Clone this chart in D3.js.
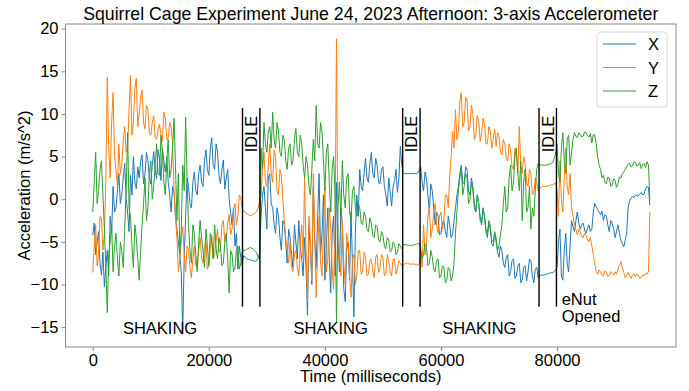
<!DOCTYPE html>
<html>
<head>
<meta charset="utf-8">
<script src="https://cdn.jsdelivr.net/npm/d3@7"></script>
<style>
  body { margin: 0; background: #fff; }
  svg text { font-family: "Liberation Sans", Arial, sans-serif; fill: #000; }
</style>
</head>
<body>
<svg id="chart" width="689" height="391"></svg>
<script>
// Accelerometer sampling interval (one reading every 250 ms)
const SAMPLE_MS = 250;

// X axis acceleration (m/s^2)
const accelX = [
  -4.2, -2.8, -6.5, -5.0, -3.8, -7.5, -8.9, -6.2, -10.3, -8.0,
  -6.0, -9.0, -2.0, -4.0, 1.5, -1.5, -1.0, 1.0, 3.0, -0.5,
  0.5, 2.5, 4.2, 0.0, -1.5, -3.8, 2.8, 0.5, 5.0, 2.0,
  1.2, 3.8, 2.5, 4.5, 5.2, 1.8, 3.0, 5.5, 4.6, 2.5,
  1.8, 4.0, 5.6, 3.5, 2.4, 5.8, 4.8, 2.2, 6.0, 4.5,
  3.2, 5.0, 2.0, 0.5, -1.5, 1.5, 0.8, -2.0, -3.5, -5.0,
  -6.5, -8.5, -15.6, -7.0, -2.0, 2.5, 1.5, -0.5, -1.0, 2.0,
  3.2, 1.0, 0.5, 3.0, 4.0, 2.0, 1.5, 4.5, 5.8, 3.5,
  2.8, 6.0, 7.2, 4.0, 3.5, 6.5, 5.5, 2.8, 1.8, 3.5,
  4.6, 1.2, 2.5, 3.5, 0.0, -1.5, -3.0, -1.0, -5.5, -4.0,
  -8.2, -5.5, -6.8, -7.8,
  -6.6, -6.8, -7.0, -7.0, -7.1, -7.1, -7.2, -7.2, -7.3, -7.2, -6.9, -6.4,
  -2.0, 0.5, 1.5, -1.0, -3.5, 2.5, 3.0, -0.5, -1.0, -3.0,
  -4.0, -1.0, -2.0, -4.5, -6.0, -2.5, -3.0, -5.0, -7.5, -3.5,
  -4.5, -6.5, -8.0, -3.0, -5.0, -7.0, -2.5, -5.5, -7.0, -9.0,
  -4.5, -8.0, -13.6, -3.0, -6.0, -10.0, 1.5, -5.0, -8.0, -2.0,
  3.0, -6.5, -4.0, 0.5, -9.5, -5.5, -1.0, -7.0, -11.0, -4.0,
  -2.0, -9.0, 2.0, -4.5, -8.5, -1.0, -3.0, -10.5, -12.0, -6.0,
  -5.0, -9.5, -1.5, -7.5, -13.8, -4.0, 0.5, -2.0, 3.5, 1.5,
  1.0, 3.0, 4.8, 2.5, 2.0, 4.2, 5.5, 3.0, 2.5, 4.8,
  4.0, 2.0, 1.8, 3.5, 3.8, 1.5, 0.5, -0.8, 2.5, 0.8,
  -0.8, 1.5, 2.2, 3.5, 0.8, 2.5, 6.2, 4.0,
  3.1, 3.0, 3.0, 3.0, 3.0, 3.0, 3.0, 3.0, 3.0, 3.0, 3.1, 3.4,
  3.8, 2.0, 1.0, 3.2, 2.5, 0.5, -1.5, 1.8, 1.0, -1.0,
  -3.0, -1.5, -2.0, -4.2, -4.0, -2.8, -2.5, -3.8, -4.5, -2.0,
  -3.0, -4.5, -4.2, -2.5, -1.0, 0.5, 1.5, 3.0, 4.0, 1.8,
  2.0, 3.8, 3.5, 1.0, 0.5, 2.5, 1.5, -0.5, -1.5, 0.5,
  -0.5, -2.0, -3.0, -1.0, -2.0, -3.8, -4.5, -2.8, -3.5, -5.2,
  -5.5, -4.0, -5.0, -6.2, -6.8, -5.5, -6.0, -7.5, -8.0, -6.8,
  -6.5, -9.0, -8.5, -7.2, -7.0, -9.3, -9.0, -7.8, -7.5, -9.8,
  -9.5, -8.0, -7.8, -9.6, -8.5, -7.0, -7.2, -9.0, -9.8, -8.2,
  -8.0, -9.2,
  -8.9, -8.9, -8.9, -8.9, -8.8, -8.8, -8.7, -8.7, -8.6, -8.6, -8.5, -8.3,
  -8.0, -5.0, -3.5, -9.0, -9.5, -6.0, -4.0, -7.5, -8.5, -5.5,
  -2.5, -3.2, -3.8, -2.5, -1.5, -2.8, -3.5, -3.0, -2.8, -3.6,
  -4.0, -3.4, -3.0, -3.8, -3.5, -1.5, -0.5, -0.9, -1.2, -1.5,
  -1.8, -1.4, -2.5, -1.8, -2.0, -3.0, -3.8, -2.5, -2.8, -3.5,
  -4.5, -3.8, -3.0, -4.0, -4.8, -5.2, -5.6, -4.8, -4.0, -1.0,
  -0.2, 0.1, 0.3, 0.2, 0.5, 0.4, 0.4, 0.6, 0.8, 0.5,
  0.6, 1.2, 1.5, 1.4,
  -0.7
];

// Y axis acceleration (m/s^2)
const accelY = [
  -8.6, -5.5, -3.0, -7.8, -6.5, -2.0, -2.2, -6.0, -4.0, 2.0,
  14.3, 6.0, 2.5, 9.0, 12.5, 5.0, 3.5, 1.5, 6.5, 3.0,
  4.0, 7.0, 8.5, 5.5, 6.0, 10.5, 14.5, 7.5, 9.0, 13.0,
  14.2, 8.5, 10.0, 12.0, 12.8, 9.0, 8.2, 11.0, 10.5, 7.8,
  7.5, 9.0, 9.8, 7.2, 7.0, 8.2, 8.8, 7.5, 6.8, 10.2,
  9.5, 7.0, 7.2, 9.0, 8.5, 6.5, 1.0, -2.0, -4.5, -8.5,
  -7.0, -5.0, -3.2, -6.5, -8.5, -5.5, -6.0, -8.0, -9.2, -7.0,
  -5.5, -7.8, -8.0, -6.0, -4.5, -6.8, -7.5, -5.5, -5.0, -8.2,
  -7.8, -5.8, -4.2, -7.0, -6.5, -4.8, -3.5, -6.2, -5.8, -3.0,
  -2.5, -5.0, -4.8, -2.8, -1.8, -4.2, -3.5, -1.2, -0.5, -3.0,
  -2.0, 0.5, 0.2, -1.0,
  -1.4, -1.5, -1.7, -1.8, -1.9, -1.9, -1.8, -1.7, -1.6, -1.4, -1.0, -0.2,
  0.5, 3.5, 5.5, 2.0, 1.5, 4.0, 6.5, 3.0, 2.0, 5.8,
  5.0, 1.0, 0.5, 3.5, 2.8, 0.0, -2.5, -4.5, -6.0, -7.5,
  -5.0, -8.0, -8.5, -6.5, -6.0, -8.0, -9.0, -5.5, -3.0, -7.0,
  2.5, -6.0, -12.0, -2.0, -5.0, -9.5, 3.0, -4.0, -11.5, -6.0,
  -2.0, -7.5, -9.0, -3.5, 1.5, -8.5, -7.0, -1.0, -3.5, -8.0,
  -10.5, -4.0, 18.8, -7.0, -6.5, -9.0, -2.5, -7.5, -10.0, -4.0,
  -5.0, -9.0, -11.5, -7.0, -6.5, -10.0, -9.0, -6.0, -6.0, -8.8,
  -8.5, -6.2, -6.8, -9.0, -8.8, -7.2, -7.0, -8.5, -9.2, -6.8,
  -6.5, -8.6, -8.0, -6.5, -6.8, -9.0, -8.8, -6.5, -7.2, -8.5,
  -9.0, -7.0, -7.0, -8.8, -8.2, -7.2, -7.5, -7.8,
  -7.6, -7.6, -7.5, -7.5, -7.6, -7.6, -7.6, -7.6, -7.6, -7.7, -7.7, -7.6,
  -6.0, -8.0, -3.0, -6.5, -5.2, -2.0, -1.0, -4.5, -3.5, -1.5,
  -0.5, -3.0, -4.0, -2.0, -1.5, -3.5, -2.5, 0.5, 0.5, -1.0,
  2.5, 5.0, 8.0, 6.0, 10.5, 7.0, 8.0, 11.5, 12.5, 8.5,
  9.0, 12.0, 11.5, 8.0, 8.5, 11.0, 10.0, 7.0, 7.5, 9.8,
  9.2, 6.8, 7.8, 9.5, 8.8, 6.5, 6.5, 8.5, 8.0, 6.0,
  7.0, 8.2, 6.2, 7.8, 7.5, 5.5, 5.2, 7.0, 6.5, 4.8,
  4.5, 6.5, 5.8, 3.8, 3.5, 6.0, 5.0, 3.0, 8.5, 4.0,
  3.0, 5.0, 4.2, 2.0, 1.5, 3.5, 3.0, 0.5, 0.8, 2.5,
  2.0, 1.0,
  1.4, 1.4, 1.5, 1.5, 1.5, 1.5, 1.6, 1.6, 1.7, 1.7, 1.8, 1.9,
  1.0, -2.0, 4.5, 0.0, -1.5, 2.5, 6.0, 1.5, 0.5, 3.0,
  -1.0, -2.0, -3.0, -3.5, -4.2, -3.5, -3.8, -4.4, -4.5, -4.0,
  -4.2, -4.8, -5.0, -4.5, -5.5, -6.5, -7.5, -8.5, -8.8, -8.3,
  -8.5, -8.9, -9.0, -8.4, -8.6, -9.1, -8.9, -8.5, -8.7, -8.9,
  -8.5, -8.8, -8.2, -7.8, -7.3, -8.0, -8.6, -9.2, -8.9, -8.6,
  -9.0, -9.3, -8.9, -8.7, -9.1, -8.8, -8.9, -9.3, -9.2, -8.9,
  -9.0, -8.7, -8.8, -8.5,
  -1.5
];

// Z axis acceleration (m/s^2)
const accelZ = [
  -1.5, 2.0, 5.5, -0.5, 1.0, 3.5, 4.5, 0.5, -3.5, -8.0,
  -13.3, -6.5, -5.0, -3.0, -8.5, -5.5, -4.0, -7.0, -9.0, -5.0,
  -6.0, -8.0, -3.5, 1.0, 7.8, -1.0, -2.0, -5.5, -8.0, -3.0,
  -4.5, -7.0, -9.5, -6.0, -3.0, -0.5, 2.5, -2.5, -1.0, 3.0,
  4.5, 0.0, 1.5, 4.0, 6.5, 3.0, 2.8, 7.5, 5.5, 2.0,
  0.5, 4.5, 7.0, 2.5, 3.5, 6.0, 9.5, 4.0, -2.5, 3.0,
  -6.5, -3.5, 4.0, 1.0, 9.6, 2.5, -3.0, -6.0, -7.5, -3.0,
  -4.0, -6.5, -8.5, -5.0, -2.5, -4.5, -6.0, -8.0, -3.5, -5.5,
  -7.8, -4.0, -5.0, -7.0, -3.0, -5.8, -7.0, -4.5, -5.5, -7.8,
  -7.5, -5.0, -4.0, -7.0, -11.0, -6.0, -6.5, -8.5, -8.0, -6.0,
  -5.5, -8.2, -7.5, -6.2,
  -6.0, -6.0, -5.9, -5.8, -5.7, -5.7, -5.8, -5.9, -6.1, -6.3, -6.8, -7.0,
  6.0, 3.5, 9.0, 6.5, 5.5, 8.0, 8.5, 6.0, 10.2, 7.0,
  6.0, 9.0, 8.0, 5.5, 5.0, 7.5, 7.0, 4.5, 3.5, 6.0,
  6.5, 4.0, 4.5, 7.0, 8.3, 5.5, 5.0, 7.5, 6.5, 4.0,
  2.5, 5.0, 4.0, 1.5, 0.5, 3.5, 7.0, 4.5, 11.0, 6.5,
  6.0, 9.0, 8.0, 4.5, 1.0, 5.5, 6.5, 2.0, -1.5, 3.5,
  5.0, 0.5, -14.5, -1.0, 2.0, -2.0, 4.5, 0.5, -1.0, 2.5,
  3.0, -1.5, -2.5, 1.0, 1.5, -1.0, -2.0, -0.5, -1.0, -2.8,
  -3.0, -1.5, -2.0, -3.5, -3.8, -2.2, -2.8, -4.2, -4.5, -3.0,
  -3.2, -4.8, -5.0, -3.8, -4.2, -5.5, -5.8, -4.5, -4.8, -6.2,
  -6.0, -5.0, -5.2, -6.5, -6.2, -5.2, -5.5, -5.8,
  -5.3, -5.3, -5.3, -5.4, -5.4, -5.4, -5.4, -5.4, -5.3, -5.3, -5.2, -5.2,
  -5.8, -7.0, -6.5, -5.2, -5.5, -7.8, -7.5, -6.0, -6.8, -8.2,
  -8.5, -7.2, -7.0, -9.2, -9.0, -7.8, -8.0, -9.8, -9.5, -8.0,
  -8.2, -9.6, -9.0, -7.5, -4.0, -1.5, 1.0, 2.5, 3.5, 0.5,
  1.5, 3.0, 2.5, -0.5, 0.0, 2.0, 1.0, -1.0, -1.5, 0.5,
  -0.5, -2.5, -2.8, -1.2, -2.0, -3.5, -4.0, -2.5, -3.2, -4.8,
  -5.0, -3.8, -4.5, -6.0, -5.5, -4.2, -3.0, -0.5, 1.5, -1.5,
  -1.0, 2.5, 4.0, 1.0, 2.0, 5.0, 6.0, 3.0, 1.0, 4.5,
  -2.5, 2.0, 3.5, -1.5, -1.0, 1.5, -3.5, -1.0, -2.0, 1.0,
  3.5, 4.2,
  4.0, 4.0, 4.0, 4.0, 4.0, 4.0, 4.1, 4.1, 4.2, 4.3, 4.8, 5.3,
  6.5, 3.0, 2.0, 6.0, 7.8, 4.5, 3.0, 7.0, 7.5, 4.0,
  5.5, 7.0, 7.8, 7.4, 7.2, 7.8, 7.6, 7.3, 7.4, 7.9,
  7.8, 7.5, 7.3, 7.7, 6.6, 7.6, 7.5, 6.5, 5.0, 4.0,
  3.5, 2.5, 2.8, 2.0, 1.8, 2.6, 2.5, 1.5, 1.6, 2.4,
  2.2, 1.4, 1.8, 2.6, 2.5, 3.0, 3.2, 3.5, 3.8, 4.1,
  4.2, 3.8, 3.9, 4.4, 4.3, 3.9, 4.0, 4.3, 3.6, 4.0,
  4.2, 3.7, 4.4, 4.0,
  0.0
];

const seriesNames = ["X", "Y", "Z"];
const seriesValues = [accelX, accelY, accelZ];
const seriesColors = ["#1f77b4", "#ff7f0e", "#2ca02c"];

const xTicks = [0, 20000, 40000, 60000, 80000];
const yTicks = [-15, -10, -5, 0, 5, 10, 15, 20];

// Boundaries of the idle periods (ms)
const idleBounds = [25800, 28800, 53400, 56400, 76900, 79900];
// Phase annotations (time in ms)
const idleLabelTimes = [27300, 54900, 78400];
const shakingLabelTimes = [11600, 41000, 66600];
const openedLabelTime = 80800;

const plot = { left: 65.5, right: 676, top: 24, bottom: 347 };
const FONT = 16.5;

const svg = d3.select("#chart");

const x = d3.scaleLinear().domain([-4700, 100500]).range([plot.left, plot.right]);
const y = d3.scaleLinear().domain([-17.33, 20.55]).range([plot.bottom, plot.top]);

svg.append("defs").append("clipPath").attr("id", "plot-clip")
  .append("rect")
  .attr("x", plot.left).attr("y", plot.top)
  .attr("width", plot.right - plot.left).attr("height", plot.bottom - plot.top);

const minus = d => (d < 0 ? "\u2212" + Math.abs(d) : String(d));

// Axes
const xAxis = svg.append("g")
  .attr("transform", `translate(0,${plot.bottom})`)
  .call(d3.axisBottom(x).tickValues(xTicks).tickSize(4).tickPadding(3).tickFormat(d3.format("d")));
const yAxis = svg.append("g")
  .attr("transform", `translate(${plot.left},0)`)
  .call(d3.axisLeft(y).tickValues(yTicks).tickSize(4).tickPadding(3).tickFormat(minus));

[xAxis, yAxis].forEach(g => {
  g.select(".domain").remove();
  g.selectAll(".tick line").attr("stroke", "#888").attr("stroke-width", 1);
  g.selectAll(".tick text")
    .attr("font-size", FONT)
    .attr("font-family", "Liberation Sans, Arial, sans-serif")
    .attr("fill", "#000");
});

// Data lines
const line = d3.line()
  .x((d, i) => x(i * SAMPLE_MS))
  .y(d => y(d));

const lines = svg.append("g").attr("clip-path", "url(#plot-clip)");
seriesValues.forEach((vals, k) => {
  lines.append("path")
    .datum(vals)
    .attr("fill", "none")
    .attr("stroke", seriesColors[k])
    .attr("stroke-width", 1)
    .attr("stroke-linejoin", "round")
    .attr("d", line);
});

// Idle period markers
svg.append("g").selectAll("line")
  .data(idleBounds)
  .join("line")
  .attr("x1", d => x(d)).attr("x2", d => x(d))
  .attr("y1", y(10.7)).attr("y2", y(-12.6))
  .attr("stroke", "#000")
  .attr("stroke-width", 1.4);

svg.append("g").selectAll("text")
  .data(idleLabelTimes)
  .join("text")
  .attr("transform", d => `translate(${x(d)},${y(7.65)}) rotate(-90)`)
  .attr("text-anchor", "middle")
  .attr("dominant-baseline", "central")
  .attr("font-size", FONT)
  .text("IDLE");

svg.append("g").selectAll("text")
  .data(shakingLabelTimes)
  .join("text")
  .attr("x", d => x(d))
  .attr("y", y(-15.1))
  .attr("text-anchor", "middle")
  .attr("dominant-baseline", "central")
  .attr("font-size", FONT)
  .text("SHAKING");

const opened = svg.append("text")
  .attr("x", x(openedLabelTime))
  .attr("font-size", FONT);
opened.append("tspan").attr("x", x(openedLabelTime)).attr("y", y(-11.7))
  .attr("dominant-baseline", "central").text("eNut");
opened.append("tspan").attr("x", x(openedLabelTime)).attr("y", y(-13.7))
  .attr("dominant-baseline", "central").text("Opened");

// Frame
svg.append("rect")
  .attr("x", plot.left).attr("y", plot.top)
  .attr("width", plot.right - plot.left).attr("height", plot.bottom - plot.top)
  .attr("fill", "none").attr("stroke", "#888").attr("stroke-width", 1);

// Legend
const legend = svg.append("g");
legend.append("rect")
  .attr("x", 597).attr("y", 32).attr("width", 70).attr("height", 75)
  .attr("rx", 3)
  .attr("fill", "#fff").attr("fill-opacity", 0.8)
  .attr("stroke", "#d6d6d6");
seriesNames.forEach((name, k) => {
  const ly = 44 + k * 23.5;
  legend.append("line")
    .attr("x1", 603).attr("x2", 636).attr("y1", ly).attr("y2", ly)
    .attr("stroke", seriesColors[k]).attr("stroke-width", 1.1);
  legend.append("text")
    .attr("x", 648).attr("y", ly)
    .attr("dominant-baseline", "central")
    .attr("font-size", FONT)
    .text(name);
});

// Titles
svg.append("text")
  .attr("x", (plot.left + plot.right) / 2).attr("y", 20)
  .attr("text-anchor", "middle")
  .attr("font-size", 17.7)
  .text("Squirrel Cage Experiment June 24, 2023 Afternoon: 3-axis Accelerometer");

svg.append("text")
  .attr("x", (plot.left + plot.right) / 2).attr("y", 382)
  .attr("text-anchor", "middle")
  .attr("font-size", FONT)
  .text("Time (milliseconds)");

svg.append("text")
  .attr("transform", `translate(24,${(plot.top + plot.bottom) / 2}) rotate(-90)`)
  .attr("text-anchor", "middle")
  .attr("dominant-baseline", "central")
  .attr("font-size", FONT)
  .text("Acceleration (m/s^2)");
</script>
</body>
</html>
